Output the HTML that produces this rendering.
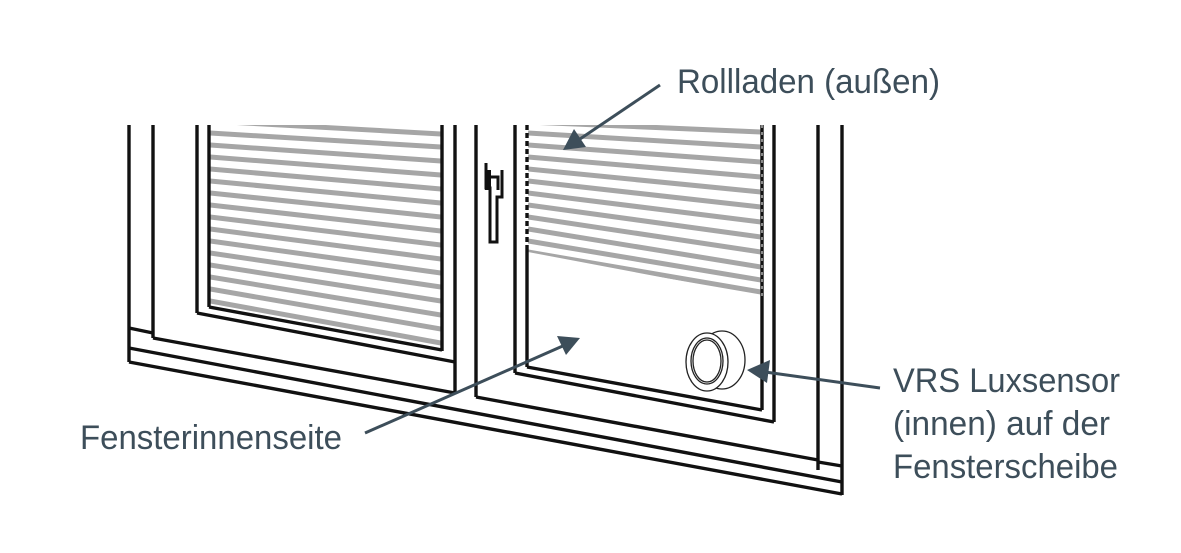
<!DOCTYPE html>
<html><head><meta charset="utf-8"><style>
html,body{margin:0;padding:0;background:#fff;}
svg{display:block;}
text{font-family:"Liberation Sans",sans-serif;fill:#3d4e5a;font-size:34px;}
</style></head><body>
<svg width="1181" height="553" viewBox="0 0 1181 553" xmlns="http://www.w3.org/2000/svg">
<defs>
<clipPath id="cl"><polygon points="210,125 441,125 441,350 210,307"/></clipPath>
<clipPath id="cr"><polygon points="528,125 761,125 761,296 528,252"/></clipPath>
</defs>
<g clip-path="url(#cl)" stroke="#a6a6a6" stroke-width="5">
<line x1="210" y1="121" x2="441" y2="134"/>
<line x1="210" y1="133" x2="441" y2="147"/>
<line x1="210" y1="145" x2="441" y2="161"/>
<line x1="210" y1="157" x2="441" y2="175"/>
<line x1="210" y1="169" x2="441" y2="189"/>
<line x1="210" y1="181" x2="441" y2="203"/>
<line x1="210" y1="193" x2="441" y2="217"/>
<line x1="210" y1="205" x2="441" y2="231"/>
<line x1="210" y1="217" x2="441" y2="245"/>
<line x1="210" y1="229" x2="441" y2="259"/>
<line x1="210" y1="241" x2="441" y2="273"/>
<line x1="210" y1="253" x2="441" y2="287"/>
<line x1="210" y1="265" x2="441" y2="301"/>
<line x1="210" y1="277" x2="441" y2="315"/>
<line x1="210" y1="289" x2="441" y2="329"/>
<line x1="210" y1="301" x2="441" y2="343"/>
</g>
<g clip-path="url(#cr)" stroke="#a6a6a6" stroke-width="5">
<line x1="528" y1="122" x2="761" y2="132"/>
<line x1="528" y1="133" x2="761" y2="147"/>
<line x1="528" y1="145" x2="761" y2="162"/>
<line x1="528" y1="157" x2="761" y2="177"/>
<line x1="528" y1="169" x2="761" y2="192"/>
<line x1="528" y1="181" x2="761" y2="207"/>
<line x1="528" y1="193" x2="761" y2="222"/>
<line x1="528" y1="205" x2="761" y2="237"/>
<line x1="528" y1="217" x2="761" y2="252"/>
<line x1="528" y1="229" x2="761" y2="267"/>
<line x1="528" y1="241" x2="761" y2="280"/>
<line x1="528" y1="252" x2="761" y2="292"/>
</g>
<g stroke="#111" stroke-width="3.4" fill="none">
<line x1="129" y1="125" x2="129" y2="362"/>
<line x1="153" y1="125" x2="153" y2="338"/>
<line x1="197" y1="125" x2="197" y2="313"/>
<line x1="209" y1="125" x2="209" y2="307"/>
<line x1="442" y1="125" x2="442" y2="351"/>
<line x1="455" y1="125" x2="455" y2="394"/>
<line x1="476" y1="125" x2="476" y2="397"/>
<line x1="515" y1="125" x2="515" y2="373"/>
<line x1="527" y1="250" x2="527" y2="367"/>
<line x1="527" y1="125" x2="527" y2="250" stroke-dasharray="5,3"/>
<line x1="762" y1="125" x2="762" y2="410"/>
<line x1="762" y1="125" x2="762" y2="296" stroke="#fff" stroke-width="1" stroke-dasharray="3,4"/>
<line x1="774" y1="125" x2="774" y2="422"/>
<line x1="818" y1="125" x2="818" y2="470"/>
<line x1="842" y1="125" x2="842" y2="495"/>
<line x1="129" y1="328" x2="153" y2="333"/>
<line x1="209" y1="307" x2="442" y2="350"/>
<line x1="197" y1="313" x2="455" y2="362"/>
<line x1="527" y1="367" x2="762" y2="410"/>
<line x1="515" y1="373" x2="774" y2="422"/>
<line x1="153" y1="338" x2="455" y2="393"/>
<line x1="476" y1="397" x2="818" y2="460"/>
<line x1="818" y1="462" x2="842" y2="466"/>
<line x1="129" y1="348" x2="842" y2="482"/>
<line x1="129" y1="362" x2="842" y2="494"/>
</g>
<g stroke="#111" stroke-width="3" fill="none">
<path d="M486 163 V188 H490 V242 H497 V197 H502 V170"/>
<path d="M489 177 H498 V190"/>
</g>
<rect x="485" y="170" width="6" height="20" fill="#111"/>
<g stroke="#222" stroke-width="1.3" fill="#fff">
<ellipse cx="722" cy="360" rx="23" ry="29"/>
<ellipse cx="707" cy="362" rx="21" ry="29"/>
<ellipse cx="707" cy="361" rx="16" ry="23"/>
<ellipse cx="707" cy="361" rx="14" ry="21" fill="none"/>
</g>
<g stroke="#3d4e5a" stroke-width="3">
<line x1="660" y1="85" x2="580" y2="139"/>
<line x1="365" y1="433" x2="565" y2="345"/>
<line x1="880" y1="388" x2="765" y2="372"/>
</g>
<g fill="#3d4e5a">
<polygon points="563,150 574,129 586,147"/>
<polygon points="580,338 557,336 566,355"/>
<polygon points="747,370 770,360 767,383"/>
</g>
<text x="677" y="93" textLength="263" lengthAdjust="spacingAndGlyphs">Rollladen (außen)</text>
<text x="80" y="449" textLength="262" lengthAdjust="spacingAndGlyphs">Fensterinnenseite</text>
<text x="893" y="392" textLength="227" lengthAdjust="spacingAndGlyphs">VRS Luxsensor</text>
<text x="893" y="435" textLength="217" lengthAdjust="spacingAndGlyphs">(innen) auf der</text>
<text x="893" y="478" textLength="225" lengthAdjust="spacingAndGlyphs">Fensterscheibe</text>
</svg>
</body></html>
